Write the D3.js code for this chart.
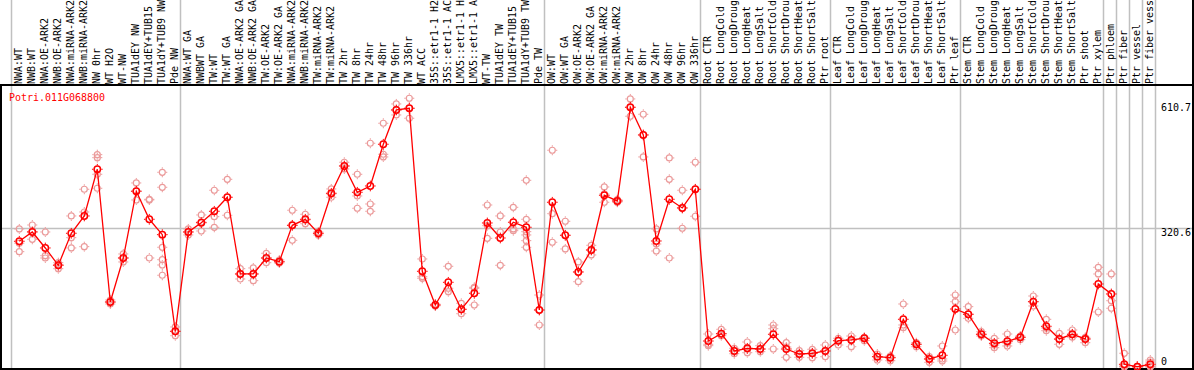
<!DOCTYPE html>
<html><head><meta charset="utf-8">
<script src="https://cdn.jsdelivr.net/npm/d3@7"></script>
<style>
html,body{margin:0;padding:0;background:#fff;}
svg{display:block;}
text{font-family:"DejaVu Sans Mono",monospace;font-size:9.97px;}
</style></head>
<body>
<svg id="c" width="1194" height="370"></svg>
<script>
const geneId = "Potri.011G068800";

// header labels as they are shown (long names are cut at the top edge in the reference)
const labels = [
"NWA:WT","NWB:WT","NWA:OE-ARK2","NWB:OE-ARK2","NWA:miRNA-ARK2","NWB:miRNA-ARK2","NW 0hr","WT H2O","WT-NW","TUA1dEY NW","TUA1dEY+TUB15","TUA1dY+TUB9 NW","Pde NW",
"NWA:WT GA","NWBWT GA","TW:WT","TW:WT GA","NWA:OE-ARK2 GA","NWB:OE-ARK2 GA","TW:OE-ARK2","TW:OE-ARK2 GA","NWA:miRNA-ARK2","NWB:miRNA-ARK2","TW:miRNA-ARK2","TW:miRNA-ARK2","TW 2hr","TW 8hr","TW 24hr","TW 48hr","TW 96hr","TW 336hr","WT ACC","35S::etr1-1 H2","35S::etr1-1 AC","LMX5::etr1-1 H","LMX5::etr1-1 A","WT-TW","TUA1dEY TW","TUA1dEY+TUB15","TUA1dY+TUB9 TW","Pde TW",
"OW:WT","OW:WT GA","OW:OE-ARK2","OW:OE-ARK2 GA","OW:miRNA-ARK2","OW:miRNA-ARK2","OW 2hr","OW 8hr","OW 24hr","OW 48hr","OW 96hr","OW 336hr",
"Root CTR","Root LongCold","Root LongDroug","Root LongHeat","Root LongSalt","Root ShortCold","Root ShortDrou","Root ShortHeat","Root ShortSalt","Ptr root",
"Leaf CTR","Leaf LongCold","Leaf LongDroug","Leaf LongHeat","Leaf LongSalt","Leaf ShortCold","Leaf ShortDrou","Leaf ShortHeat","Leaf ShortSalt","Ptr leaf",
"Stem CTR","Stem LongCold","Stem LongDroug","Stem LongHeat","Stem LongSalt","Stem ShortCold","Stem ShortDrou","Stem ShortHeat","Stem ShortSalt","Ptr shoot","Ptr xylem",
"Ptr phloem","Ptr fiber","Ptr vessel","Ptr fiber vess"];

const groupStarts = [0, 13, 41, 53, 63, 73, 84, 85, 86, 87, 88];

const means = [290.6,312.1,275.1,235.0,309.1,349.2,457.3,150.0,251.9,406.4,341.5,305.9,82.2,
312.1,333.6,360.0,392.5,214.9,214.9,251.9,243.3,327.6,341.5,309.1,401.7,464.9,404.0,418.6,515.2,594.6,598.5,221.1,143.1,195.6,133.1,170.2,333.0,298.2,334.6,323.0,131.5,
380.9,304.5,219.5,270.4,397.1,383.9,600.8,536.7,291.3,387.8,367.7,411.0,
59.7,76.6,36.6,42.8,41.2,75.3,41.2,29.6,31.3,36.6,
60.4,62.1,66.0,23.4,21.1,110.0,52.1,18.1,26.6,133.8,
121.6,75.3,54.4,59.0,68.3,150.7,93.8,64.4,75.3,64.4,191.7,
168.6,5.8,0.2,5.8];

const replicates = [
[319.1,286.2,266.5],[328.3,312.8,295.2],[312.1,257.2,251.9],[241.0,236.6,227.1],[349.2,298.9,275.1],
[411.0,358.4,278.1],[491.1,484.2,445.7,413.3],[154.7,150.0,145.4],[261.2,251.9,242.7],[425.6,407.0,386.2],
[387.8,386.2,251.9],[450.3,415.6,276.7,248.0,235.7,211.9],[92.2,82.2,72.0],
[319.1,312.1,305.2],[351.5,335.3,314.4],[408.7,347.5,323.0],[434.1,392.5,350.8],[227.1,214.9,203.3],
[228.8,214.9,199.4],[262.8,251.9,241.0],[247.3,242.7,240.3],[362.4,327.6,292.9],[353.1,339.9,331.3],
[312.1,309.1,305.2],[411.7,400.1,392.5],[473.5,464.9,458.0],[445.7,395.5,367.0],[517.5,376.9,360.0],
[563.8,492.0,485.8],[608.5,594.6,583.0],[621.7,598.5,575.4],[249.6,208.6,204.9],[145.4,143.1,140.8],
[232.7,181.8,173.9],[147.0,133.1,122.9],[184.1,181.8,143.1],[374.6,326.7,297.5],[349.2,312.1,235.0],
[369.3,319.1,315.1],[431.8,341.5,312.8,305.2,292.0,276.7],[166.2,131.5,96.8],
[501.3,354.5,288.3],[336.9,304.5,272.8],[242.7,219.5,197.0],[281.3,270.4,258.9],[416.3,400.1,380.9],
[386.9,383.9,380.9],[620.1,600.8,580.0],[584.6,536.7,485.8],[319.1,284.3,268.1],[483.5,434.1,251.9],
[408.7,367.7,320.7],[473.5,411.0,348.5],
[75.9,52.1,48.9],[86.8,76.6,72.0],[42.8,36.6,30.3],[57.4,41.2,32.6],[48.9,41.2,35.0],
[96.8,88.2,41.2],[55.8,45.8,22.0],[37.3,29.6,22.0],[40.5,31.3,21.1],[50.5,36.6,23.4],
[66.0,60.4,50.5],[71.3,62.1,46.5],[68.3,66.0,60.4],[29.6,23.4,15.7],[25.0,21.1,14.1],
[145.4,96.8,90.5],[55.8,52.1,46.5],[23.4,18.1,10.4],[48.2,18.1,13.4],[166.2,150.7,85.2],
[139.2,121.6,112.3],[81.3,75.3,71.3],[66.0,50.5,44.2],[75.9,55.1,48.2],[71.3,68.3,62.7],
[163.9,150.7,140.8],[110.0,89.8,83.6],[77.6,63.2,52.1],[85.2,75.3,68.3],[68.3,64.4,55.8],
[230.4,214.9,126.9],
[214.9,153.0,135.5],[31.3,2.0,0.0,0.0,1.0],[1.0,0.2,0.0],[15.7,11.1,0.0,0.0,2.0]
];

const axisTicks = [0, 320.6, 610.7];
const midLine = 320.6;

const W = 1194, H = 370;
const headerBottom = 85, plotBottom = 369, left = 1, right = 1193;
const svg = d3.select("#c");

const x = d3.scalePoint().domain(d3.range(labels.length)).range([19.3, 1150.3]);
const step = x.step();
const y = d3.scaleLinear().domain([0, 610.7]).range([366.8, 103]);
const bx = i => (i < labels.length ? x(i) : x(labels.length - 1) + step) - 8;

// grid
svg.append("g").selectAll("line").data(groupStarts).join("line")
  .attr("x1", d => Math.round(bx(d)) + 0.5).attr("x2", d => Math.round(bx(d)) + 0.5)
  .attr("y1", 0).attr("y2", plotBottom)
  .attr("stroke", "#c0c0c0").attr("stroke-width", 1.5);
svg.append("line")
  .attr("x1", left).attr("x2", right)
  .attr("y1", Math.round(y(midLine)) + 0.5).attr("y2", Math.round(y(midLine)) + 0.5)
  .attr("stroke", "#c0c0c0").attr("stroke-width", 1.5);

// frame
const frame = svg.append("g").attr("stroke", "#000").attr("stroke-width", 2).attr("fill", "none");
frame.append("line").attr("x1", 0).attr("x2", W).attr("y1", headerBottom).attr("y2", headerBottom);
frame.append("line").attr("x1", 0).attr("x2", W).attr("y1", plotBottom).attr("y2", plotBottom);
frame.append("line").attr("x1", left).attr("x2", left).attr("y1", headerBottom).attr("y2", plotBottom);
frame.append("line").attr("x1", right).attr("x2", right).attr("y1", 0).attr("y2", plotBottom);

// header labels
svg.append("g").selectAll("text").data(labels).join("text")
  .attr("transform", (d, i) => `translate(${x(i) + 2.6},84) rotate(-90)`)
  .attr("fill", "#000")
  .text(d => d);

// gene label
svg.append("text").attr("x", 9).attr("y", 101).attr("fill", "#ff0000").text(geneId);

// right axis labels
svg.append("g").selectAll("text").data(axisTicks).join("text")
  .attr("x", 1161)
  .attr("y", d => Math.min(y(d) + 8, 365))
  .attr("fill", "#000")
  .text(d => d === 0 ? "0" : d3.format(".1f")(d));

function marker(g, cx, cy, r, color, sw) {
  g.append("circle").attr("cx", cx).attr("cy", cy).attr("r", r)
    .attr("fill", "none").attr("stroke", color).attr("stroke-width", sw);
  const t = r + sw / 2, L = 1.4;
  [[0,-1],[0,1],[-1,0],[1,0]].forEach(([dx, dy]) => {
    g.append("line")
      .attr("x1", cx + dx * t).attr("y1", cy + dy * t)
      .attr("x2", cx + dx * (t + L)).attr("y2", cy + dy * (t + L))
      .attr("stroke", color).attr("stroke-width", 1);
  });
}

// replicates
const repG = svg.append("g");
replicates.forEach((arr, i) => arr.forEach(v => marker(repG, x(i), y(v), 3, "#eb9a9a", 1.2)));

// mean line
svg.append("path").datum(means)
  .attr("fill", "none").attr("stroke", "#ff0000").attr("stroke-width", 1.3)
  .attr("d", d3.line().x((d, i) => x(i)).y(d => y(d)));

// mean markers
const meanG = svg.append("g");
means.forEach((v, i) => marker(meanG, x(i), y(v), 3.2, "#ff0000", 1.5));
</script>
</body></html>
